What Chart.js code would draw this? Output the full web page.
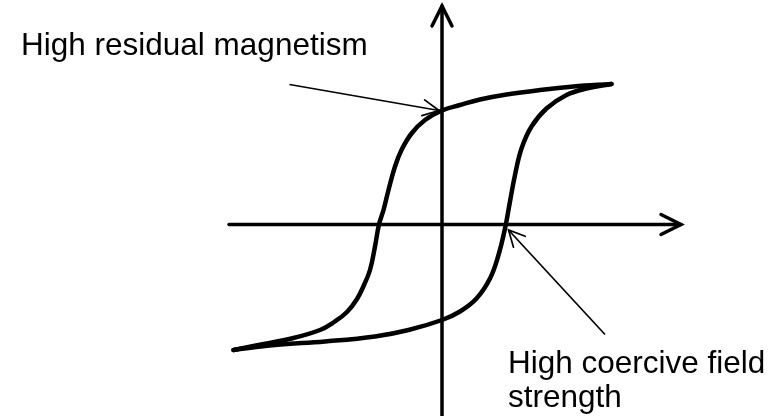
<!DOCTYPE html>
<html>
<head>
<meta charset="utf-8">
<script src="https://cdn.jsdelivr.net/npm/chart.js@4/dist/chart.umd.min.js"></script>
<style>
html,body{margin:0;padding:0;background:#fff;}
#wrap{width:775px;height:416px;position:relative;}
</style>
</head>
<body>
<div id="wrap"><canvas id="c" width="775" height="416"></canvas></div>
<script>
// Upper (descending) branch: H values and B values, right tip to left tip
const upperH = [3.39, 2.63, 1.96, 1.29, 0.76, 0.36, 0.00, -0.34, -0.61, -0.81, -0.94, -1.07, -1.17, -1.26, -1.34, -1.44, -1.56, -1.70, -1.90, -2.16, -2.44, -3.01, -3.67, -4.17];
const upperB = [2.81, 2.76, 2.69, 2.60, 2.50, 2.39, 2.28, 2.09, 1.82, 1.49, 1.16, 0.69, 0.29, 0.00, -0.44, -0.91, -1.21, -1.49, -1.75, -1.95, -2.11, -2.28, -2.41, -2.51];
// Lower (ascending) branch: left tip to right tip
const lowerH = [-4.17, -3.34, -2.34, -1.34, -0.67, 0.00, 0.36, 0.69, 0.96, 1.13, 1.26, 1.36, 1.46, 1.59, 1.79, 2.09, 2.49, 2.89, 3.39];
const lowerB = [-2.51, -2.41, -2.34, -2.24, -2.11, -1.91, -1.74, -1.48, -1.08, -0.61, -0.08, 0.46, 0.99, 1.52, 1.96, 2.32, 2.59, 2.72, 2.81];
// Axis extents (data units)
const hAxisH = [-4.26, 4.78];
const vAxisB = [-3.9, 4.37];
// Annotation labels and the points they refer to
const labelResidual = ["High residual magnetism"];
const labelCoercive = ["High coercive field", "strength"];
const residualArrow = {from: [-3.05, 2.80], to: [-0.06, 2.28]};
const coerciveArrow = {from: [3.26, -2.20], to: [1.33, -0.11]};
const residualText = {at: [-8.42, 3.39]};
const coerciveText = {at: [1.32, -2.97], lineStep: 0.67};

const toPts = (xs, ys) => xs.map((x, i) => ({x: x, y: ys[i]}));

function drawHead(ctx, x1, y1, x2, y2, len, half, lw) {
  const a = Math.atan2(y2 - y1, x2 - x1);
  const bx = x2 - len * Math.cos(a), by = y2 - len * Math.sin(a);
  const nx = -Math.sin(a), ny = Math.cos(a);
  ctx.save();
  ctx.strokeStyle = '#000';
  ctx.lineWidth = lw;
  ctx.lineCap = 'round';
  ctx.lineJoin = 'miter';
  ctx.beginPath();
  ctx.moveTo(bx + nx * half, by + ny * half);
  ctx.lineTo(x2, y2);
  ctx.lineTo(bx - nx * half, by - ny * half);
  ctx.stroke();
  ctx.restore();
}

const annot = {
  id: 'annot',
  afterDatasetsDraw(chart) {
    const ctx = chart.ctx;
    const xs = chart.scales.x, ys = chart.scales.y;
    const px = v => xs.getPixelForValue(v), py = v => ys.getPixelForValue(v);
    // axis arrowheads
    drawHead(ctx, px(hAxisH[0]), py(0), px(hAxisH[1]), py(0), 20, 10, 3.5);
    drawHead(ctx, px(0), py(vAxisB[0]), px(0), py(vAxisB[1]), 20, 10, 3.5);
    // annotation arrows
    [residualArrow, coerciveArrow].forEach(a => {
      const x1 = px(a.from[0]), y1 = py(a.from[1]), x2 = px(a.to[0]), y2 = py(a.to[1]);
      ctx.save();
      ctx.strokeStyle = '#000';
      ctx.lineWidth = 1.7;
      ctx.beginPath();
      ctx.moveTo(x1, y1);
      ctx.lineTo(x2, y2);
      ctx.stroke();
      ctx.restore();
      drawHead(ctx, x1, y1, x2, y2, 16, 8, 1.7);
    });
    // text
    ctx.save();
    ctx.fillStyle = '#000';
    ctx.font = '31.5px "Liberation Sans", Arial, sans-serif';
    ctx.textBaseline = 'alphabetic';
    ctx.textAlign = 'left';
    ctx.fillText(labelResidual[0], px(residualText.at[0]), py(residualText.at[1]));
    labelCoercive.forEach((t, i) => {
      ctx.fillText(t, px(coerciveText.at[0]), py(coerciveText.at[1] - i * coerciveText.lineStep));
    });
    ctx.restore();
  }
};

const lineDs = (data, w, tension) => ({
  data: data,
  showLine: true,
  borderColor: '#000',
  borderWidth: w,
  pointRadius: 0,
  pointHoverRadius: 0,
  fill: false,
  tension: tension,
  borderCapStyle: 'round',
  borderJoinStyle: 'round'
});

new Chart(document.getElementById('c'), {
  type: 'scatter',
  data: {
    datasets: [
      lineDs(toPts(hAxisH, [0, 0]), 3.5, 0),
      lineDs(toPts([0, 0], vAxisB), 3.5, 0),
      lineDs(toPts(upperH, upperB), 4.5, 0.4),
      lineDs(toPts(lowerH, lowerB), 4.5, 0.4)
    ]
  },
  options: {
    responsive: false,
    animation: false,
    events: [],
    layout: {padding: 0},
    plugins: {legend: {display: false}, tooltip: {enabled: false}},
    scales: {
      x: {type: 'linear', min: -8.84, max: 6.66, display: false},
      y: {type: 'linear', min: -3.83, max: 4.49, display: false}
    }
  },
  plugins: [annot]
});
</script>
</body>
</html>
